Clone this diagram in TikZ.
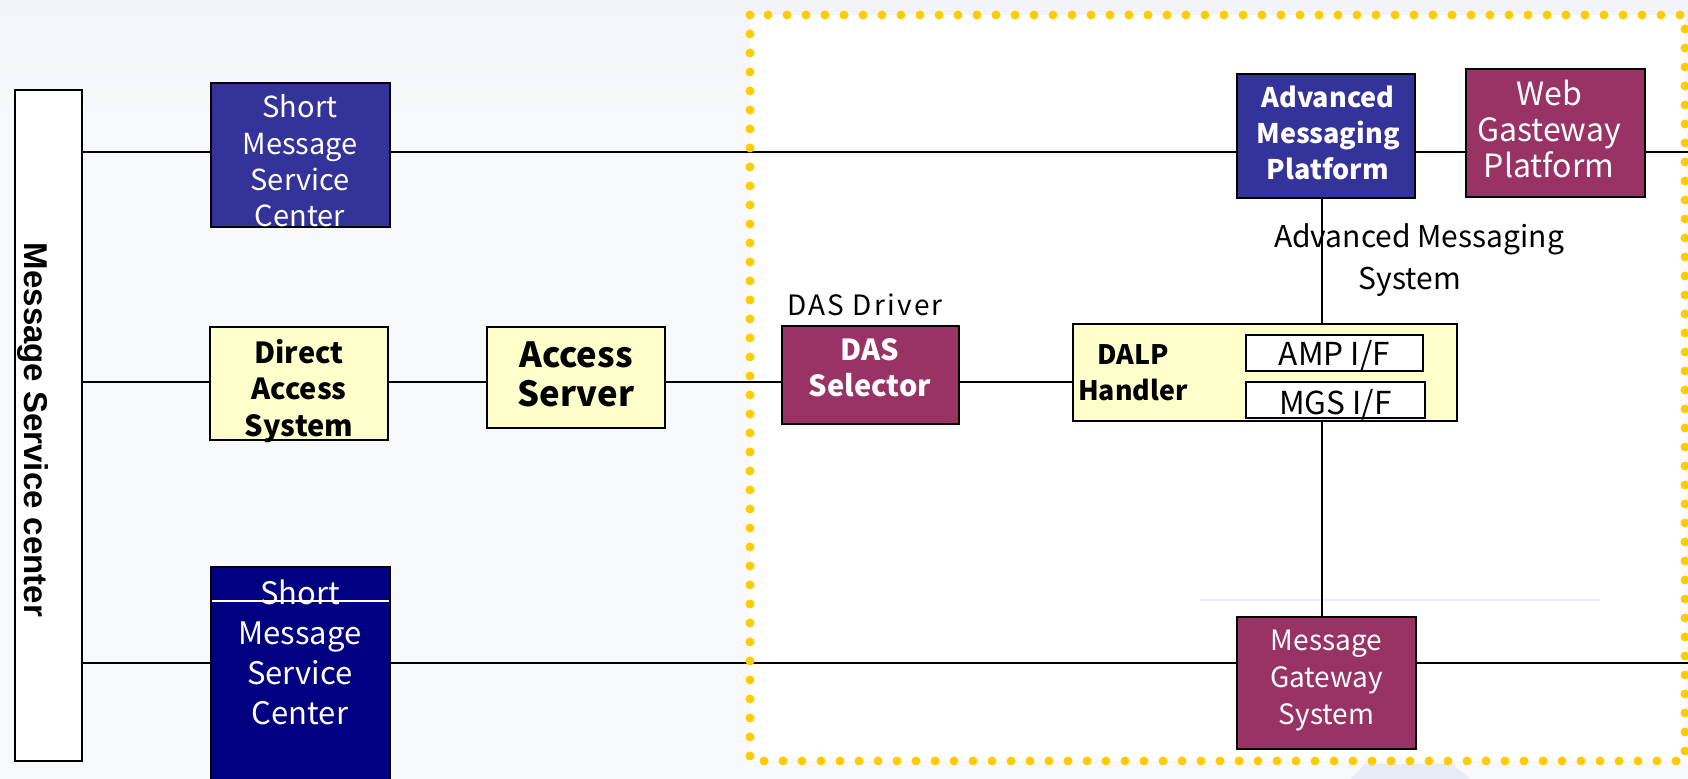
\documentclass[tikz,border=0pt]{standalone}
\usepackage{fontspec}
\setmainfont{Noto Sans CJK JP}
\newfontfamily\arialfont{Liberation Sans}
\definecolor{bgout}{HTML}{F8F9FD}
\definecolor{bgtop}{HTML}{F1F4F9}
\definecolor{smscblue}{HTML}{333399}
\definecolor{navyb}{HTML}{000080}
\definecolor{maroonb}{HTML}{993366}
\definecolor{paleyel}{HTML}{FFFFCC}
\definecolor{dotyel}{HTML}{FFCC00}
\definecolor{faintline}{HTML}{ECECF6}
\definecolor{faintblue}{HTML}{E6EBF7}
\begin{document}
\begin{tikzpicture}[x=0.5pt,y=-0.5pt,
  box/.style={draw=black,line width=1pt,inner sep=0pt,align=center},
  sz/.style 2 args={minimum width={#1*0.5pt},minimum height={#2*0.5pt}},
  regtext/.style={font=\fontsize{14.5}{18.2}\selectfont},
  boldtext/.style={font=\bfseries\fontsize{14.5}{18}\selectfont},
  bluebox/.style={box,fill=smscblue,text=white},
  navybox/.style={box,fill=navyb,text=white},
  maroonbox/.style={box,fill=maroonb,text=white},
  yelbox/.style={box,fill=paleyel,text=black},
  ifbox/.style={box,fill=white,text=black,line width=0.8pt},
  conn/.style={draw=black,line width=0.8pt},
  lbl/.style={inner sep=0pt,align=center,text=black}
]
\useasboundingbox (0,0) rectangle (1688,779);
% background
\fill[bgout] (0,0) rectangle (1688,779);
\shade[top color=bgtop,bottom color=bgout] (0,0) rectangle (1688,120);
\fill[faintblue] (1365,764) -- (1452,764) -- (1470,779) -- (1350,779) -- cycle;
\fill[white] (750,15) rectangle (1685,761);
\draw[faintline,line width=1pt] (1200,600) -- (1600,600);

% row coordinates
\coordinate (r1) at (0,152);
\coordinate (r2) at (0,382);
\coordinate (r3) at (0,663);
\coordinate (e1) at (1688,152);
\coordinate (e3) at (1688,663);
\coordinate (vx) at (1322,0);

% nodes
\node[box,fill=white,sz={67}{671}] (msc) at (48.5,425.5) {};
\node[rotate=-90,inner sep=0pt,font=\arialfont\bfseries\fontsize{16.5}{20}\selectfont] (msctxt) at (33,430) {Message Service center};

\node[bluebox,sz={179}{144}] (smsc1) at (300.5,155) {};
\node[lbl,regtext,text=white] (smsc1t) at (300,161) {Short\\Message\\Service\\Center};

\node[yelbox,sz={178}{113}] (das) at (299,383.5) {};
\node[lbl,font=\bfseries\fontsize{14.5}{18.2}\selectfont] (dast) at (299,391) {Direct\\Access\\System};

\node[yelbox,sz={178}{101}] (as) at (576,377.5) {};
\node[lbl,font=\bfseries\fontsize{17.3}{19.5}\selectfont] (ast) at (576,374) {Access\\Server};

\node[maroonbox,sz={177}{98}] (dassel) at (870.5,375) {};
\node[lbl,boldtext,text=white] (daselt) at (870,368) {DAS\\Selector};
\node[lbl,font=\addfontfeature{LetterSpace=8}\fontsize{14}{16}\selectfont] (drv) at (865,305) {DAS Driver};

\node[yelbox,sz={384}{97}] (dalp) at (1265,372.5) {};
\node[lbl,font=\bfseries\fontsize{13.4}{18}\selectfont] (dalpt) at (1133,373) {DALP\\Handler};
\node[ifbox,sz={177}{36}] (ampif) at (1334.5,353) {};
\node[lbl,font=\fontsize{15.8}{18}\selectfont] (ampift) at (1334.5,356) {AMP I/F};
\node[ifbox,sz={179}{36}] (mgsif) at (1335.5,400) {};
\node[lbl,font=\fontsize{15.8}{18}\selectfont] (mgsift) at (1335.5,405) {MGS I/F};

\node[bluebox,sz={178}{124}] (amp) at (1326,136) {};
\node[lbl,font=\bfseries\fontsize{13.5}{18}\selectfont,text=white] (ampt) at (1328,133) {Advanced\\Messaging\\Platform};
\node[maroonbox,sz={179}{128}] (web) at (1555.5,133) {};
\node[lbl,font=\fontsize{16}{18}\selectfont,text=white] (webt) at (1549,129) {Web\\Gasteway\\Platform};
\node[lbl,font=\fontsize{15}{21}\selectfont] (amslbl) at (1419,260) {Advanced Messaging\\System\hspace*{9pt}};

\node[maroonbox,sz={179}{132}] (mgs) at (1326.5,683) {};
\node[lbl,font=\fontsize{14}{18.5}\selectfont,text=white] (mgst) at (1326.5,681) {Message\\Gateway\\System};

\node[navybox,sz={179}{233}] (smsc2) at (300.5,683.5) {};
\node[lbl,font=\fontsize{15.5}{20}\selectfont,text=white] (smsc2t) at (300,652) {Short\\Message\\Service\\Center};
\draw[white,line width=0.8pt] ([xshift=1pt]smsc2.west |- 0,601) -- ([xshift=-1pt]smsc2.east |- 0,601);

% connectors row 1
\draw[conn] (msc.east |- r1) -- (smsc1.west |- r1);
\draw[conn] (smsc1.east |- r1) -- (amp.west |- r1);
\draw[conn] (amp.east |- r1) -- (web.west |- r1);
\draw[conn] (web.east |- r1) -- (e1);
% row 2
\draw[conn] (msc.east |- r2) -- (das.west |- r2);
\draw[conn] (das.east |- r2) -- (as.west |- r2);
\draw[conn] (as.east |- r2) -- (dassel.west |- r2);
\draw[conn] (dassel.east |- r2) -- (dalp.west |- r2);
% row 3
\draw[conn] (msc.east |- r3) -- (smsc2.west |- r3);
\draw[conn] (smsc2.east |- r3) -- (mgs.west |- r3);
\draw[conn] (mgs.east |- r3) -- (e3);
% vertical
\draw[conn] (amp.south -| vx) -- (dalp.north -| vx);
\draw[conn] (dalp.south -| vx) -- (mgs.north -| vx);

% dotted border
\draw[dotyel,line width=4.5pt,line cap=round,dash pattern=on 0pt off 9.5pt] (750,15) rectangle (1685,761);
\end{tikzpicture}
\end{document}
